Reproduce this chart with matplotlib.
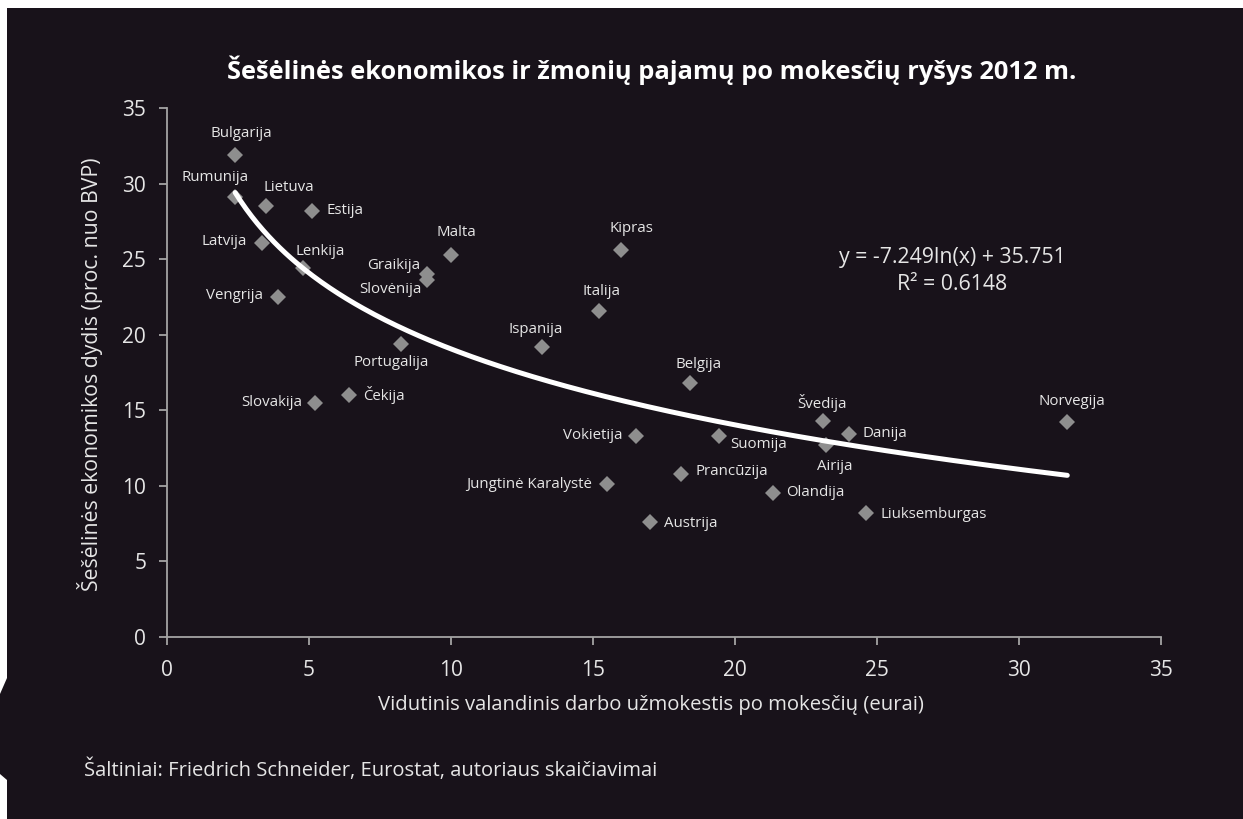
import numpy as np
import matplotlib
matplotlib.use("Agg")
import matplotlib.pyplot as plt
from matplotlib.patches import Rectangle, Polygon

# ---- data ----
countries = ["Bulgarija", "Rumunija", "Lietuva", "Estija", "Latvija", "Lenkija", "Vengrija",
             "Malta", "Graikija", "Slovėnija", "Kipras", "Italija", "Ispanija", "Portugalija",
             "Slovakija", "Čekija", "Belgija", "Vokietija", "Suomija", "Švedija", "Danija",
             "Airija", "Norvegija", "Jungtinė Karalystė", "Prancūzija", "Olandija", "Austrija",
             "Liuksemburgas"]
wage = [2.4, 2.4, 3.5, 5.1, 3.35, 4.8, 3.9,
        10.0, 9.15, 9.15, 16.0, 15.2, 13.2, 8.25,
        5.2, 6.4, 18.4, 16.5, 19.45, 23.1, 24.0,
        23.2, 31.7, 15.5, 18.1, 21.35, 17.0,
        24.6]
shadow = [31.9, 29.1, 28.5, 28.2, 26.1, 24.4, 22.5,
          25.3, 24.0, 23.6, 25.6, 21.6, 19.2, 19.4,
          15.5, 16.0, 16.8, 13.3, 13.3, 14.3, 13.4,
          12.7, 14.2, 10.1, 10.8, 9.5, 7.6,
          8.2]
# trendline coefficients as printed in the chart
trend_a = -7.249
trend_b = 35.751
r2_text = "R² = 0.6148"
x_ticks = [0, 5, 10, 15, 20, 25, 30, 35]
y_ticks = [0, 5, 10, 15, 20, 25, 30, 35]

# label placement (offset in pixels, horizontal alignment)
label_pos = {
    "Bulgarija": (6, -21, "center"), "Rumunija": (-20, -20, "center"),
    "Lietuva": (22, -19, "center"), "Estija": (15, 0, "left"),
    "Latvija": (-15, -1, "right"), "Lenkija": (17, -17, "center"),
    "Vengrija": (-15, -1, "right"), "Malta": (5, -22, "center"),
    "Graikija": (-7, -9, "right"), "Slovėnija": (-5, 9, "right"),
    "Kipras": (10, -22, "center"), "Italija": (3, -19, "center"),
    "Ispanija": (-6, -17, "center"), "Portugalija": (-10, 19, "center"),
    "Slovakija": (-12, 0, "right"), "Čekija": (14, 0, "left"),
    "Belgija": (9, -19, "center"), "Vokietija": (-13, 0, "right"),
    "Suomija": (11, 9, "left"), "Švedija": (-1, -18, "center"),
    "Danija": (14, -1, "left"), "Airija": (9, 21, "center"),
    "Norvegija": (5, -21, "center"), "Jungtinė Karalystė": (-15, 0, "right"),
    "Prancūzija": (14, -2, "left"), "Olandija": (13, -1, "left"),
    "Austrija": (14, 1, "left"), "Liuksemburgas": (15, 1, "left"),
}

BG = "#18121a"
TXT = "#e6e6e6"
AXC = "#a4a4a4"
W, H = 1243, 819
plt.rcParams['font.family'] = ['Open Sans', 'DejaVu Sans']

fig = plt.figure(figsize=(W / 100, H / 100), dpi=100)
fig.patch.set_facecolor(BG)

def fx(px):
    return px / W

def fy(py):
    return 1 - py / H

# white margins
fig.patches.append(Rectangle((0, fy(8)), 1, 1 - fy(8), transform=fig.transFigure,
                             facecolor="white", edgecolor="none", zorder=0))
fig.patches.append(Rectangle((0, 0), fx(7), 1, transform=fig.transFigure,
                             facecolor="white", edgecolor="none", zorder=0))
fig.patches.append(Polygon([(fx(7), fy(678)), (0, fy(694)), (0, fy(774)), (fx(7), fy(780))],
                           closed=True, transform=fig.transFigure,
                           facecolor=BG, edgecolor="none", zorder=1))

ax = fig.add_axes([fx(167), fy(637), fx(1161) - fx(167), fy(108) - fy(637)])
ax.set_facecolor(BG)
ax.set_xlim(0, 35)
ax.set_ylim(0, 35)

ax.plot(wage, shadow, linestyle="none", marker="D", markersize=8.2,
        color="#8e8e8e", markeredgewidth=0, zorder=2)

xs = np.linspace(min(wage), max(wage), 300)
ax.plot(xs, trend_a * np.log(xs) + trend_b, color="white", linewidth=3.6,
        solid_capstyle="round", zorder=3)

for c, x, y in zip(countries, wage, shadow):
    dx, dy, ha = label_pos[c]
    ax.annotate(c, (x, y), xytext=(dx * 0.72, -dy * 0.72), textcoords="offset points",
                ha=ha, va="center", color=TXT, fontsize=10.8, zorder=4)

fig.text(fx(952), fy(258), f"y = {trend_a}ln(x) + {trend_b}", ha="center", va="center",
         color=TXT, fontsize=15.3)
fig.text(fx(952), fy(285), r2_text, ha="center", va="center", color=TXT, fontsize=15.3)

for s in ["top", "right"]:
    ax.spines[s].set_visible(False)
for s in ["left", "bottom"]:
    ax.spines[s].set_color(AXC)
    ax.spines[s].set_linewidth(1.3)
ax.set_xticks(x_ticks)
ax.set_yticks(y_ticks)
ax.tick_params(colors=AXC, labelcolor=TXT, labelsize=15, length=6, width=1.3,
               direction="out")
ax.tick_params(axis="y", pad=9)
ax.tick_params(axis="x", pad=10.5)

ax.set_xlabel("Vidutinis valandinis darbo užmokestis po mokesčių (eurai)", color=TXT,
              fontsize=14.6, va="center")
ax.xaxis.set_label_coords(0.487, (637 - 705) / 529)
ax.set_ylabel("Šešėlinės ekonomikos dydis (proc. nuo BVP)", color=TXT, fontsize=15.3,
              va="center")
ax.yaxis.set_label_coords((90 - 167) / 994, (637 - 374) / 529)

fig.text(fx(652), fy(70), "Šešėlinės ekonomikos ir žmonių pajamų po mokesčių ryšys 2012 m.",
         ha="center", va="center", color="white", fontsize=18.3, fontweight="bold")
fig.text(fx(84), fy(770), "Šaltiniai: Friedrich Schneider, Eurostat, autoriaus skaičiavimai",
         ha="left", va="center", color=TXT, fontsize=14.5)

fig.savefig("out.png", dpi=100, facecolor=BG)
